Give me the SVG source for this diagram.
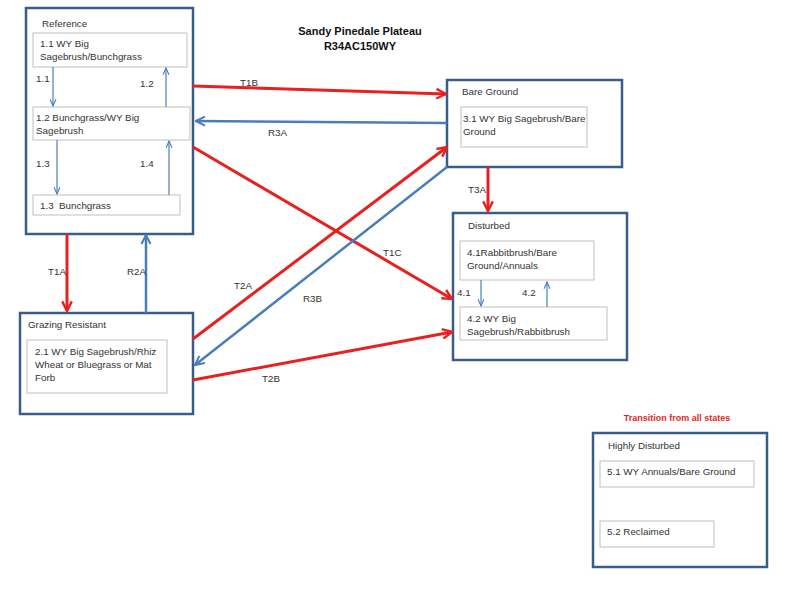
<svg xmlns="http://www.w3.org/2000/svg" width="800" height="600" viewBox="0 0 800 600">
<style>
.state{fill:#fff;stroke:#385d8a;stroke-width:2.5}
.comm{fill:#fff;stroke:#bfbfbf;stroke-width:1}
text{font-family:"Liberation Sans",Arial,sans-serif;font-size:9.8px;fill:#333}
.title{font-size:11px;font-weight:bold;fill:#111;text-anchor:middle}
.note{font-size:9px;font-weight:bold;fill:#e31f26;text-anchor:middle}
.red{stroke:#e8201f;stroke-width:3;fill:none;marker-end:url(#ar)}
.blue{stroke:#4a7ebb;stroke-width:2.5;fill:none;marker-end:url(#ab)}
.thin{stroke:#4a7ebb;stroke-width:1.2;fill:none;marker-end:url(#at)}
</style>
<defs>
<marker id="ar" viewBox="0 0 10 10" refX="9" refY="5" markerWidth="4" markerHeight="4" orient="auto" markerUnits="strokeWidth"><path d="M1,1 L9,5 L1,9" fill="none" stroke="#e8201f" stroke-width="2"/></marker>
<marker id="ab" viewBox="0 0 10 10" refX="9" refY="5" markerWidth="4.5" markerHeight="4.5" orient="auto" markerUnits="strokeWidth"><path d="M1,1 L9,5 L1,9" fill="none" stroke="#4a7ebb" stroke-width="1.8"/></marker>
<marker id="at" viewBox="0 0 10 10" refX="9" refY="5" markerWidth="7" markerHeight="7" orient="auto" markerUnits="strokeWidth"><path d="M1,1.5 L9,5 L1,8.5" fill="none" stroke="#4a7ebb" stroke-width="1.3"/></marker>
</defs>
<rect width="800" height="600" fill="#fff"/>
<text class="title" x="360" y="35">Sandy Pinedale Plateau</text>
<text class="title" x="360" y="50">R34AC150WY</text>

<g id="reference">
<rect class="state" x="26" y="8" width="167" height="226"/>
<text x="42" y="27">Reference</text>
<rect class="comm" x="33" y="33" width="154" height="34"/>
<text x="40" y="47">1.1 WY Big</text>
<text x="40" y="60">Sagebrush/Bunchgrass</text>
<rect class="comm" x="33" y="107" width="157" height="33"/>
<text x="36" y="121">1.2 Bunchgrass/WY Big</text>
<text x="36" y="134">Sagebrush</text>
<rect class="comm" x="33" y="195" width="147" height="20"/>
<text x="40" y="209">1.3&#160; Bunchgrass</text>
<path class="thin" d="M53,67 V106"/>
<path class="thin" d="M166,107 V68"/>
<path class="thin" d="M57,140 V194"/>
<path class="thin" d="M169,195 V141"/>
<text x="36" y="82">1.1</text>
<text x="140" y="87">1.2</text>
<text x="36" y="167">1.3</text>
<text x="140" y="167">1.4</text>
</g>

<g id="bare-ground">
<rect class="state" x="447" y="80" width="175" height="87"/>
<text x="462" y="95">Bare Ground</text>
<rect class="comm" x="461" y="107" width="126" height="40"/>
<text x="463" y="122">3.1 WY Big Sagebrush/Bare</text>
<text x="463" y="135">Ground</text>
</g>

<g id="disturbed">
<rect class="state" x="453" y="213" width="174" height="147"/>
<text x="468" y="229">Disturbed</text>
<rect class="comm" x="460" y="241" width="134" height="39"/>
<text x="467" y="256">4.1Rabbitbrush/Bare</text>
<text x="467" y="269">Ground/Annuals</text>
<rect class="comm" x="460" y="307" width="147" height="33"/>
<text x="467" y="322">4.2 WY Big</text>
<text x="467" y="335">Sagebrush/Rabbitbrush</text>
<path class="thin" d="M481,280 V306"/>
<path class="thin" d="M547,307 V282"/>
<text x="457" y="296">4.1</text>
<text x="522" y="296">4.2</text>
</g>

<g id="grazing-resistant">
<rect class="state" x="20" y="313" width="173" height="101"/>
<text x="28" y="328">Grazing Resistant</text>
<rect class="comm" x="27" y="340" width="140" height="53"/>
<text x="35" y="355">2.1 WY Big Sagebrush/Rhiz</text>
<text x="35" y="368">Wheat or Bluegrass or Mat</text>
<text x="35" y="381">Forb</text>
</g>

<g id="highly-disturbed">
<text class="note" x="677" y="421">Transition from all states</text>
<rect class="state" x="593" y="433" width="174" height="134"/>
<text x="608" y="449">Highly Disturbed</text>
<rect class="comm" x="600" y="461" width="154" height="26"/>
<text x="607" y="475">5.1 WY Annuals/Bare Ground</text>
<rect class="comm" x="600" y="521" width="114" height="26"/>
<text x="607" y="535">5.2 Reclaimed</text>
</g>

<g id="connectors">
<path class="red" d="M193,86 L446,94"/>
<path class="blue" d="M447,123 L196,121"/>
<path class="red" d="M193,147 L452,299"/>
<path class="red" d="M193,339 L447,147"/>
<path class="blue" d="M447,167 L195,365"/>
<path class="red" d="M193,380 L452,332"/>
<path class="red" d="M488,167 V211"/>
<path class="red" d="M67,234 V311"/>
<path class="blue" d="M146,313 V235"/>
<text x="240" y="86">T1B</text>
<text x="268" y="136">R3A</text>
<text x="383" y="256">T1C</text>
<text x="234" y="289">T2A</text>
<text x="303" y="302">R3B</text>
<text x="262" y="382">T2B</text>
<text x="468" y="193">T3A</text>
<text x="48" y="275">T1A</text>
<text x="127" y="275">R2A</text>
</g>
</svg>
